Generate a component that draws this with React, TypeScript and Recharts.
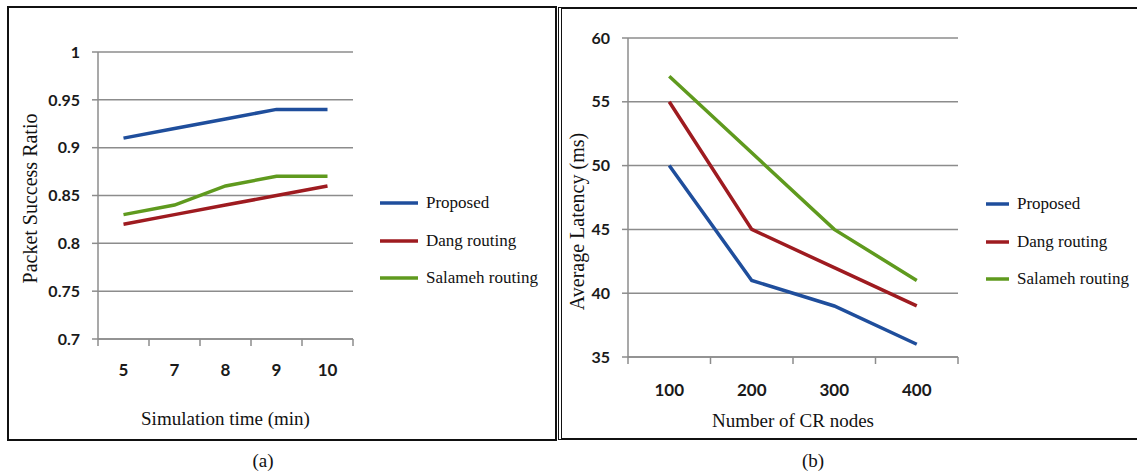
import { LineChart, Line, XAxis, YAxis, CartesianGrid } from 'recharts';

// panel (a): packet success ratio vs simulation time
const timeMinutes = ['5', '7', '8', '9', '10'];
const proposedRatio = [0.91, 0.92, 0.93, 0.94, 0.94];
const dangRatio = [0.82, 0.83, 0.84, 0.85, 0.86];
const salamehRatio = [0.83, 0.84, 0.86, 0.87, 0.87];
const ratioTicks = [0.7, 0.75, 0.8, 0.85, 0.9, 0.95, 1];

// panel (b): average latency vs number of CR nodes
const crNodes = ['100', '200', '300', '400'];
const proposedLatency = [50, 41, 39, 36];
const dangLatency = [55, 45, 42, 39];
const salamehLatency = [57, 51, 45, 41];
const latencyTicks = [35, 40, 45, 50, 55, 60];

const seriesKeys = ['proposed', 'dang', 'salameh'];
const seriesNames = ['Proposed', 'Dang routing', 'Salameh routing'];
const seriesColors = ['#1f4e9c', '#9e1b20', '#5f9a1e'];

const SERIF = '"Liberation Serif", "Times New Roman", serif';
const TICK_FONT = 'Lato, "Open Sans", sans-serif';
const GRID = '#8c8c8c';

const ratioData = timeMinutes.map((t, i) => ({
  cat: t,
  proposed: proposedRatio[i],
  dang: dangRatio[i],
  salameh: salamehRatio[i],
}));

const latencyData = crNodes.map((n, i) => ({
  cat: n,
  proposed: proposedLatency[i],
  dang: dangLatency[i],
  salameh: salamehLatency[i],
}));

const yTitle = (text: string, dx: number, dy: number) => ({ viewBox }: any) => {
  const cx = viewBox.x + dx;
  const cy = viewBox.y + viewBox.height / 2 + dy;
  return (
    <text
      x={cx}
      y={cy}
      transform={`rotate(-90 ${cx} ${cy})`}
      textAnchor="middle"
      dominantBaseline="central"
      fontFamily={SERIF}
      fontSize={20}
      fill="#111"
    >
      {text}
    </text>
  );
};

const xTitle = (text: string, dy: number) => ({ viewBox }: any) => (
  <text
    x={viewBox.x + viewBox.width / 2}
    y={viewBox.y + dy}
    textAnchor="middle"
    dominantBaseline="central"
    fontFamily={SERIF}
    fontSize={19}
    fill="#111"
  >
    {text}
  </text>
);

// category label plus the small tick marks that sit between categories
const CatTick = ({ x, y, payload, index, bandWidth, count, lift }: any) => {
  const axisY = y - lift;
  const left = x - bandWidth / 2;
  return (
    <g>
      <line x1={left} y1={axisY} x2={left} y2={axisY + 7} stroke={GRID} strokeWidth={1.5} />
      {index === count - 1 && (
        <line
          x1={left + bandWidth}
          y1={axisY}
          x2={left + bandWidth}
          y2={axisY + 7}
          stroke={GRID}
          strokeWidth={1.5}
        />
      )}
      <text
        x={x}
        y={y}
        dy="0.71em"
        textAnchor="middle"
        fontFamily={TICK_FONT}
        fontWeight={700}
        fontSize={17}
        fill="#1a1a1a"
      >
        {payload.value}
      </text>
    </g>
  );
};

const Legend = ({ left, top, lineLen }: { left: number; top: number; lineLen: number }) => (
  <div style={{ position: 'absolute', left, top }}>
    {seriesNames.map((name, i) => (
      <div
        key={name}
        style={{
          position: 'absolute',
          left: 0,
          top: i * 37.5 - 12,
          height: 24,
          display: 'flex',
          alignItems: 'center',
          whiteSpace: 'nowrap',
        }}
      >
        <svg width={lineLen} height={6} style={{ marginRight: 8 }}>
          <line x1={0} y1={3} x2={lineLen} y2={3} stroke={seriesColors[i]} strokeWidth={3.5} />
        </svg>
        <span style={{ fontFamily: SERIF, fontSize: 17, color: '#111' }}>{name}</span>
      </div>
    ))}
  </div>
);

type PanelProps = {
  data: any[];
  cats: string[];
  ticks: number[];
  width: number;
  height: number;
  margin: { top: number; right: number; bottom: number; left: number };
  yWidth: number;
  xTickMargin: number;
  yLabel: any;
  xLabel: any;
};

const Panel = ({ data, cats, ticks, width, height, margin, yWidth, xTickMargin, yLabel, xLabel }: PanelProps) => {
  const plotWidth = width - margin.left - margin.right - yWidth;
  const bandWidth = plotWidth / cats.length;
  return (
    <LineChart width={width} height={height} data={data} margin={margin}>
      <CartesianGrid vertical={false} stroke={GRID} strokeWidth={1.5} />
      <XAxis
        dataKey="cat"
        scale="band"
        height={40}
        interval={0}
        tickLine={false}
        tickSize={0}
        tickMargin={xTickMargin}
        axisLine={{ stroke: GRID, strokeWidth: 1.5 }}
        tick={(props: any) => (
          <CatTick {...props} bandWidth={bandWidth} count={cats.length} lift={xTickMargin} />
        )}
        label={{ content: xLabel }}
      />
      <YAxis
        width={yWidth}
        domain={[ticks[0], ticks[ticks.length - 1]]}
        ticks={ticks}
        interval={0}
        tickFormatter={(v: number) => String(v)}
        tickSize={6}
        tickMargin={12}
        tickLine={{ stroke: GRID, strokeWidth: 1.5 }}
        axisLine={{ stroke: GRID, strokeWidth: 1.5 }}
        tick={{ fontFamily: TICK_FONT, fontWeight: 700, fontSize: 16, fill: '#1a1a1a' }}
        label={{ content: yLabel }}
      />
      {seriesKeys.map((k, i) => (
        <Line
          key={k}
          dataKey={k}
          name={seriesNames[i]}
          stroke={seriesColors[i]}
          strokeWidth={3.5}
          dot={false}
          activeDot={false}
          type="linear"
          isAnimationActive={false}
        />
      ))}
    </LineChart>
  );
};

export default function App() {
  return (
    <div
      style={{
        position: 'absolute',
        left: 0,
        top: 0,
        width: 1137,
        height: 473,
        background: '#fff',
        overflow: 'hidden',
      }}
    >
      {/* panel frames */}
      <div
        style={{
          position: 'absolute',
          left: 7,
          top: 6,
          width: 550,
          height: 435,
          boxSizing: 'border-box',
          border: '2px solid #111',
        }}
      />
      <div
        style={{
          position: 'absolute',
          left: 558,
          top: 7,
          width: 620,
          height: 433,
          boxSizing: 'border-box',
          border: '2px solid #111',
          borderLeft: '4px double #111',
        }}
      />

      <div style={{ position: 'absolute', left: 8, top: 7 }}>
        <Panel
          data={ratioData}
          cats={timeMinutes}
          ticks={ratioTicks}
          width={548}
          height={433}
          margin={{ top: 45, right: 203, bottom: 61, left: 30 }}
          yWidth={60}
          xTickMargin={25}
          yLabel={yTitle('Packet Success Ratio', -8, 3)}
          xLabel={xTitle('Simulation time (min)', 79)}
        />
      </div>
      <Legend left={380} top={203} lineLen={38} />

      <div style={{ position: 'absolute', left: 559, top: 8 }}>
        <Panel
          data={latencyData}
          cats={crNodes}
          ticks={latencyTicks}
          width={578}
          height={431}
          margin={{ top: 30, right: 179, bottom: 42, left: 19 }}
          yWidth={50}
          xTickMargin={27}
          yLabel={yTitle('Average Latency (ms)', -1, 24)}
          xLabel={xTitle('Number of CR nodes', 63)}
        />
      </div>
      <Legend left={986} top={204} lineLen={23} />

      <div
        style={{
          position: 'absolute',
          left: 263,
          top: 461,
          transform: 'translate(-50%, -50%)',
          fontFamily: SERIF,
          fontSize: 19,
          color: '#111',
        }}
      >
        (a)
      </div>
      <div
        style={{
          position: 'absolute',
          left: 813,
          top: 461,
          transform: 'translate(-50%, -50%)',
          fontFamily: SERIF,
          fontSize: 19,
          color: '#111',
        }}
      >
        (b)
      </div>
    </div>
  );
}
